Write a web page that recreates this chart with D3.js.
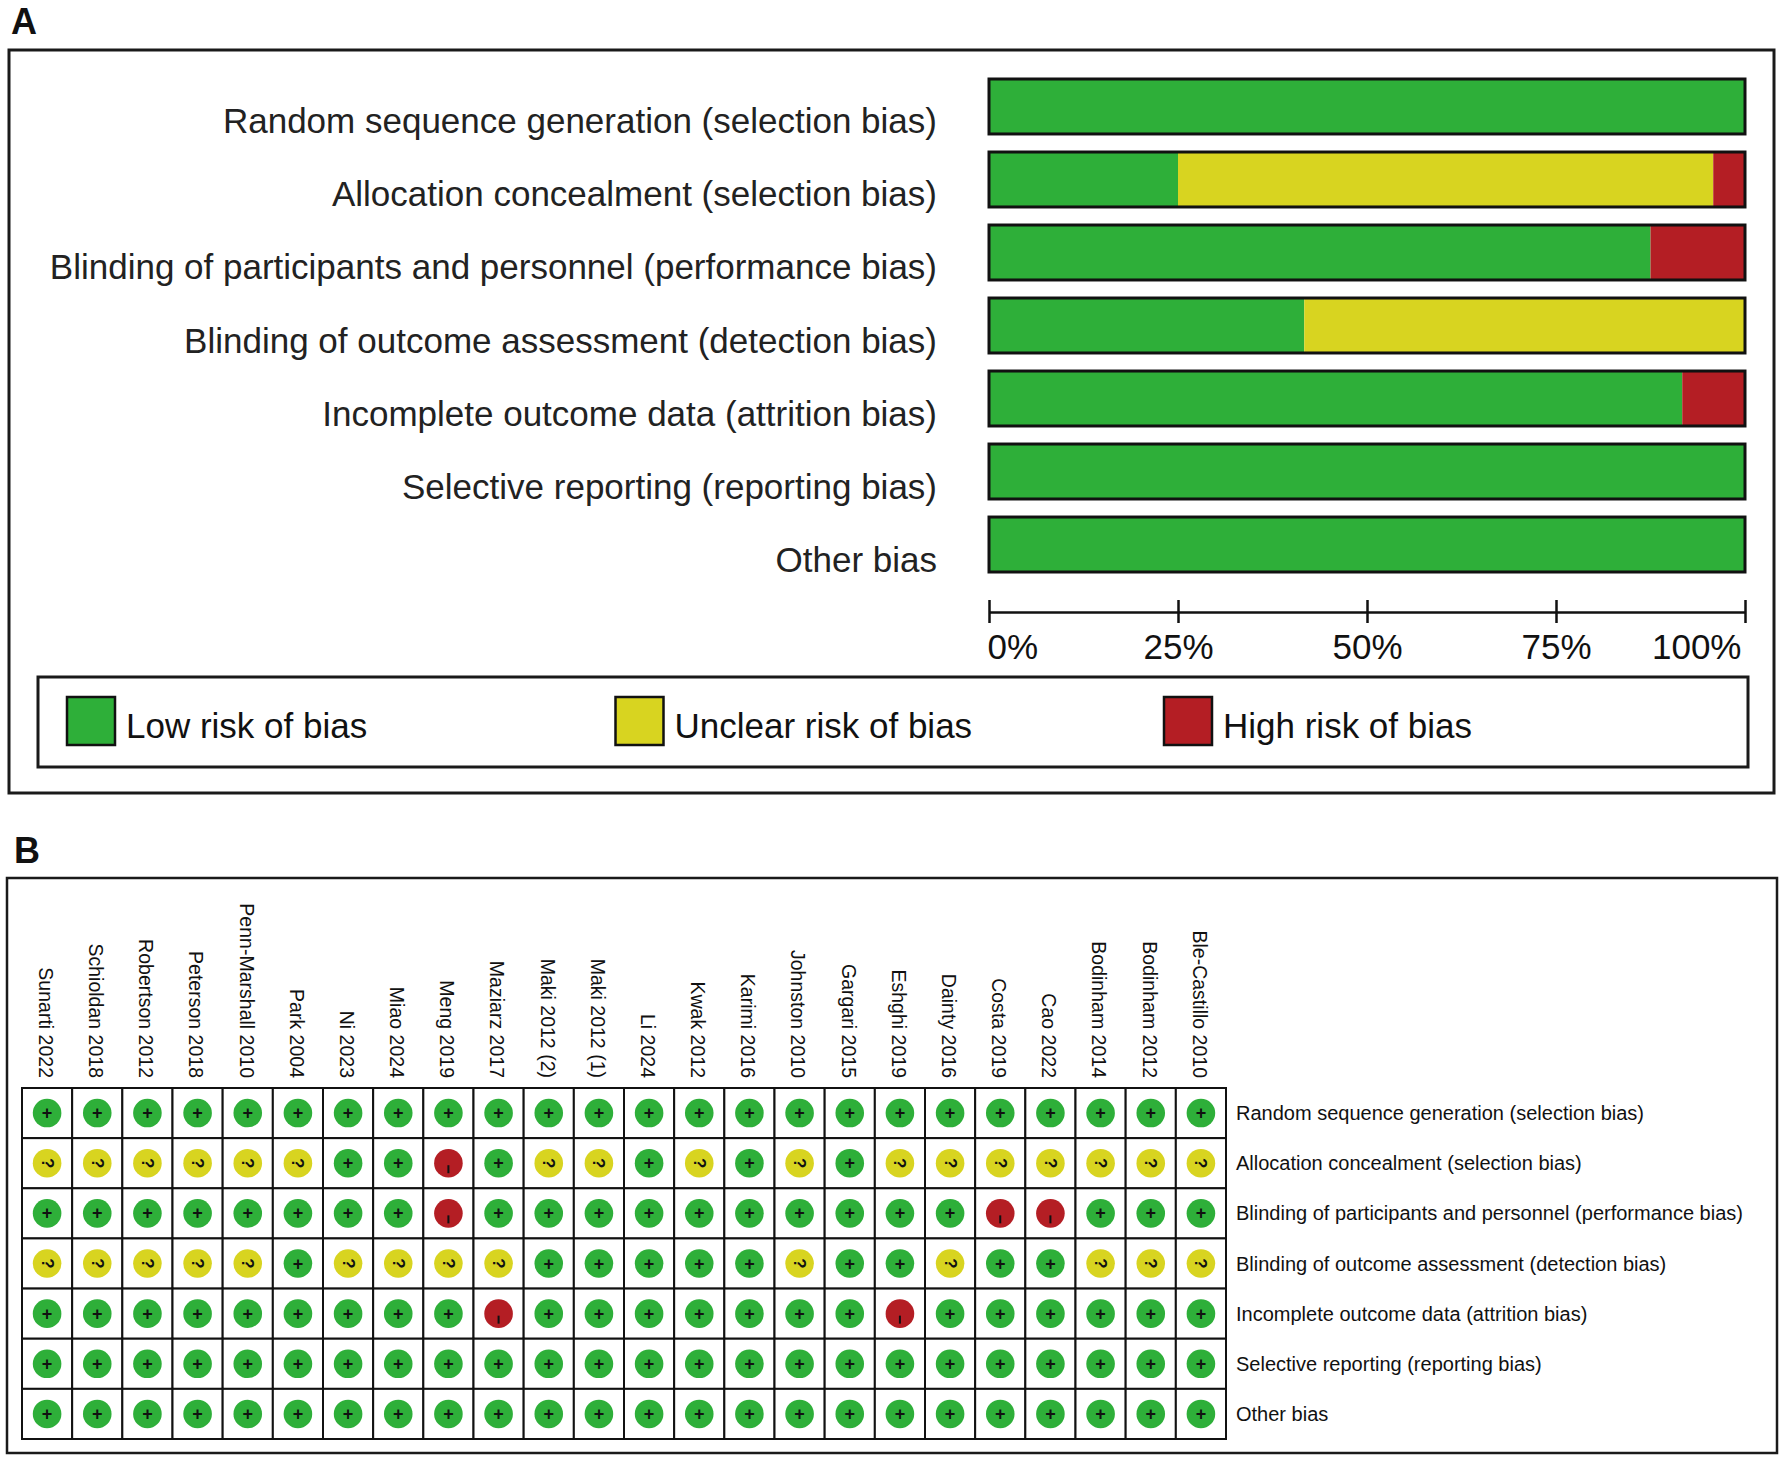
<!DOCTYPE html>
<html>
<head>
<meta charset="utf-8">
<script src="https://cdn.jsdelivr.net/npm/d3@7"></script>
<style>
  html, body { margin: 0; padding: 0; background: #fff; }
  svg { display: block; }
  text { font-family: "Liberation Sans", Arial, sans-serif; }
</style>
</head>
<body>
<svg id="chart" width="1786" height="1462"></svg>
<script>
// ---------- DATA ----------
const domains = [
  "Random sequence generation (selection bias)",
  "Allocation concealment (selection bias)",
  "Blinding of participants and personnel (performance bias)",
  "Blinding of outcome assessment (detection bias)",
  "Incomplete outcome data (attrition bias)",
  "Selective reporting (reporting bias)",
  "Other bias"
];
// Panel A: percentage of studies per judgement
const lowPct     = [100, 25.0, 87.5, 41.7, 91.7, 100, 100];
const unclearPct = [0,   70.8, 0,    58.3, 0,    0,   0];
const highPct    = [0,   4.2,  12.5, 0,    8.3,  0,   0];
const tickValues = [0, 25, 50, 75, 100];
const tickLabels = ["0%", "25%", "50%", "75%", "100%"];
const legendLabels = ["Low risk of bias", "Unclear risk of bias", "High risk of bias"];
const riskColors = ["#2eaf39", "#d8d420", "#b41e24"];

// Panel B: studies and their judgements (+ low, ? unclear, - high)
const studies = [
  "Sunarti 2022", "Schioldan 2018", "Robertson 2012", "Peterson 2018",
  "Penn-Marshall 2010", "Park 2004", "Ni 2023", "Miao 2024", "Meng 2019",
  "Maziarz 2017", "Maki 2012 (2)", "Maki 2012 (1)", "Li 2024", "Kwak 2012",
  "Karimi 2016", "Johnston 2010", "Gargari 2015", "Eshghi 2019", "Dainty 2016",
  "Costa 2019", "Cao 2022", "Bodinham 2014", "Bodinham 2012", "Ble-Castillo 2010"
];
const randomSeq   = ["+","+","+","+","+","+","+","+","+","+","+","+","+","+","+","+","+","+","+","+","+","+","+","+"];
const allocation  = ["?","?","?","?","?","?","+","+","-","+","?","?","+","?","+","?","+","?","?","?","?","?","?","?"];
const perfBlind   = ["+","+","+","+","+","+","+","+","-","+","+","+","+","+","+","+","+","+","+","-","-","+","+","+"];
const detBlind    = ["?","?","?","?","?","+","?","?","?","?","+","+","+","+","+","?","+","+","?","+","+","?","?","?"];
const attrition   = ["+","+","+","+","+","+","+","+","+","-","+","+","+","+","+","+","+","-","+","+","+","+","+","+"];
const reporting   = ["+","+","+","+","+","+","+","+","+","+","+","+","+","+","+","+","+","+","+","+","+","+","+","+"];
const otherBias   = ["+","+","+","+","+","+","+","+","+","+","+","+","+","+","+","+","+","+","+","+","+","+","+","+"];
const judgements = [randomSeq, allocation, perfBlind, detBlind, attrition, reporting, otherBias];

// ---------- DRAW ----------
const svg = d3.select("#chart");
svg.append("rect").attr("width", 1786).attr("height", 1462).attr("fill", "#fff");

const colorOf = d3.scaleOrdinal(["+", "?", "-"], riskColors);

// ===== Panel A =====
svg.append("text").attr("x", 11).attr("y", 34)
  .attr("font-size", 36).attr("font-weight", "bold").attr("fill", "#111").text("A");
svg.append("rect").attr("x", 9).attr("y", 50).attr("width", 1765).attr("height", 743)
  .attr("fill", "none").attr("stroke", "#1a1a1a").attr("stroke-width", 3);

const xA = d3.scaleLinear().domain([0, 100]).range([989, 1745]);
const yA = d3.scaleBand().domain(domains).range([79, 572]).paddingInner(0.247).paddingOuter(0);

const rowsA = domains.map((d, i) => ({
  domain: d,
  segs: [
    { start: 0, end: lowPct[i], color: riskColors[0] },
    { start: lowPct[i], end: lowPct[i] + unclearPct[i], color: riskColors[1] },
    { start: lowPct[i] + unclearPct[i], end: lowPct[i] + unclearPct[i] + highPct[i], color: riskColors[2] }
  ].filter(s => s.end - s.start > 0)
}));

const gBars = svg.append("g");
const rowG = gBars.selectAll("g.row").data(rowsA).join("g").attr("class", "row");
rowG.selectAll("rect.seg").data(d => d.segs.map(s => Object.assign({ domain: d.domain }, s)))
  .join("rect").attr("class", "seg")
  .attr("x", s => xA(s.start))
  .attr("y", s => yA(s.domain))
  .attr("width", s => xA(s.end) - xA(s.start))
  .attr("height", yA.bandwidth())
  .attr("fill", s => s.color);
rowG.append("rect")
  .attr("x", xA(0)).attr("y", d => yA(d.domain))
  .attr("width", xA(100) - xA(0)).attr("height", yA.bandwidth())
  .attr("fill", "none").attr("stroke", "#111").attr("stroke-width", 3);

svg.append("g").selectAll("text").data(domains).join("text")
  .attr("x", 937)
  .attr("y", d => yA(d) + yA.bandwidth() / 2 + 27)
  .attr("text-anchor", "end")
  .attr("font-size", 35).attr("fill", "#222")
  .text(d => d);

// axis
const axisA = d3.axisBottom(xA).tickValues(tickValues)
  .tickFormat((d, i) => tickLabels[i]).tickSize(11).tickSizeOuter(0);
const gAx = svg.append("g").attr("transform", "translate(0,612)").call(axisA);
gAx.select(".domain").attr("stroke", "#111").attr("stroke-width", 2.5);
gAx.selectAll(".tick line").attr("y1", -12).attr("y2", 11)
  .attr("stroke", "#111").attr("stroke-width", 2.5);
gAx.selectAll(".tick text")
  .attr("y", 47).attr("dy", null)
  .attr("font-size", 35).attr("font-family", "Liberation Sans, Arial, sans-serif")
  .attr("fill", "#111")
  .attr("text-anchor", (d) => d === 0 ? "start" : (d === 100 ? "end" : "middle"))
  .attr("dx", (d) => d === 0 ? -2 : (d === 100 ? -4 : 0));

// legend
svg.append("rect").attr("x", 38).attr("y", 677).attr("width", 1710).attr("height", 90)
  .attr("fill", "none").attr("stroke", "#1a1a1a").attr("stroke-width", 3);
const xLeg = d3.scalePoint().domain(legendLabels).range([67, 1164]);
const legG = svg.append("g").selectAll("g").data(legendLabels).join("g")
  .attr("transform", d => `translate(${xLeg(d)},697)`);
legG.append("rect").attr("width", 48).attr("height", 48)
  .attr("fill", (d, i) => riskColors[i]).attr("stroke", "#111").attr("stroke-width", 2.5);
legG.append("text").attr("x", 59).attr("y", 41)
  .attr("font-size", 35).attr("fill", "#111").text(d => d);

// ===== Panel B =====
svg.append("text").attr("x", 14).attr("y", 863)
  .attr("font-size", 36).attr("font-weight", "bold").attr("fill", "#111").text("B");
svg.append("rect").attr("x", 7).attr("y", 878).attr("width", 1770).attr("height", 575)
  .attr("fill", "none").attr("stroke", "#1a1a1a").attr("stroke-width", 2.5);

const xB = d3.scaleBand().domain(studies).range([22, 1226]);
const yB = d3.scaleBand().domain(domains).range([1088, 1439]);

const cells = [];
domains.forEach((dom, r) => studies.forEach((st, c) => cells.push({ dom, st, v: judgements[r][c] })));
const cx = d => xB(d.st) + xB.bandwidth() / 2;
const cy = d => yB(d.dom) + yB.bandwidth() / 2;

const gCells = svg.append("g");
gCells.selectAll("rect").data(cells).join("rect")
  .attr("x", d => xB(d.st)).attr("y", d => yB(d.dom))
  .attr("width", xB.bandwidth()).attr("height", yB.bandwidth())
  .attr("fill", "#fff").attr("stroke", "#111").attr("stroke-width", 2);

gCells.selectAll("circle").data(cells).join("circle")
  .attr("cx", cx).attr("cy", cy)
  .attr("r", 14.3)
  .attr("fill", d => colorOf(d.v));

// "+" low risk
gCells.selectAll("text.plus").data(cells.filter(d => d.v === "+")).join("text").attr("class", "plus")
  .attr("x", cx).attr("y", cy)
  .attr("text-anchor", "middle").attr("dominant-baseline", "central")
  .attr("font-size", 18).attr("font-weight", "bold").attr("fill", "#111")
  .text("+");
// "?" unclear (drawn sideways, as in the figure)
gCells.selectAll("text.q").data(cells.filter(d => d.v === "?")).join("text").attr("class", "q")
  .attr("x", cx).attr("y", cy)
  .attr("transform", d => `rotate(90,${cx(d)},${cy(d)})`)
  .attr("text-anchor", "middle").attr("dominant-baseline", "central")
  .attr("font-size", 17).attr("font-weight", "bold").attr("fill", "#111")
  .text("?");
// "-" high risk (a short vertical stroke below centre)
gCells.selectAll("line.minus").data(cells.filter(d => d.v === "-")).join("line").attr("class", "minus")
  .attr("x1", cx).attr("x2", cx)
  .attr("y1", d => cy(d) + 2).attr("y2", d => cy(d) + 10)
  .attr("stroke", "#111").attr("stroke-width", 2);

// column labels (rotated)
svg.append("g").selectAll("text").data(studies).join("text")
  .attr("transform", d => `translate(${xB(d) + xB.bandwidth() / 2 - 1},1078) rotate(90) scale(0.93,1)`)
  .attr("text-anchor", "end")
  .attr("dominant-baseline", "central")
  .attr("font-size", 21).attr("fill", "#111")
  .text(d => d);

// row labels
svg.append("g").selectAll("text").data(domains).join("text")
  .attr("x", 1236)
  .attr("y", d => yB(d) + yB.bandwidth() / 2)
  .attr("dominant-baseline", "central")
  .attr("font-size", 20).attr("fill", "#111")
  .text(d => d);
</script>
</body>
</html>
